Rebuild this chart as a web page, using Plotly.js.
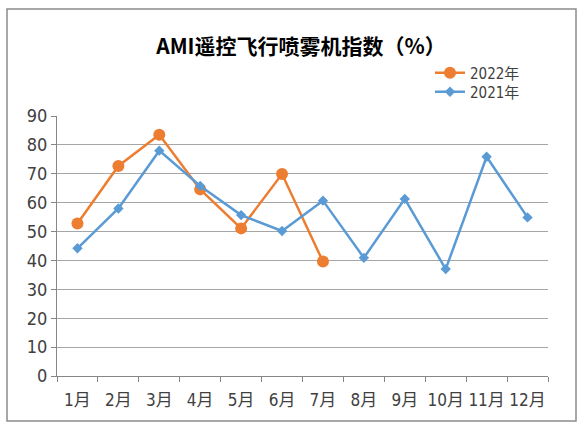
<!DOCTYPE html>
<html><head><meta charset="utf-8">
<script src="https://cdn.plot.ly/plotly-3.0.1.min.js"></script>
<style>html,body{margin:0;padding:0;background:#fff}#c{width:579px;height:423px}</style>
</head><body><div id="c"></div>
<script>
const months = ['1月','2月','3月','4月','5月','6月','7月','8月','9月','10月','11月','12月'];
const months2022 = ['1月','2月','3月','4月','5月','6月','7月'];
const values2022 = [52.8, 72.7, 83.5, 64.6, 51.1, 69.9, 39.6];
const values2021 = [44.2, 58.0, 78.0, 65.8, 55.7, 50.2, 60.7, 40.9, 61.3, 37.0, 75.9, 54.9];
const yTicks = [0,10,20,30,40,50,60,70,80,90];

const narrow = '"DejaVu Sans Condensed", "Noto Sans CJK SC", sans-serif';
const traces = [
  {x: months2022, y: values2022, name: '2022年', type: 'scatter', mode: 'lines+markers', legend: 'legend',
   line: {color: '#ED7D31', width: 2.5}, marker: {symbol: 'circle', size: 12, color: '#ED7D31'}},
  {x: months, y: values2021, name: '2021年', type: 'scatter', mode: 'lines+markers', legend: 'legend2',
   line: {color: '#5B9BD5', width: 2.5}, marker: {symbol: 'diamond', size: 8, color: '#5B9BD5'}}
];
const L = 57, R = 548, T = 116, B = 376, W = 579, H = 423;
const pw = R - L, ph = B - T;
const legFont = {family: narrow, size: 15, color: '#404040'};
const legBase = {x: (430 - L)/pw, xanchor: 'left', yanchor: 'middle', bgcolor: 'rgba(0,0,0,0)',
                 font: legFont, itemwidth: 30};
const layout = {
  width: W, height: H,
  margin: {l: L, r: W - R, t: T, b: H - B, pad: 0},
  paper_bgcolor: '#fff', plot_bgcolor: '#fff',
  title: {text: '<b>AMI遥控飞行喷雾机指数（%）</b>', x: 301/W, xanchor: 'center', y: 1 - 47/H, yanchor: 'middle',
          font: {family: '"Noto Sans CJK SC", sans-serif', size: 21, color: '#000'}},
  showlegend: true,
  legend: Object.assign({}, legBase, {y: (B - 73)/ph}),
  legend2: Object.assign({}, legBase, {y: (B - 92)/ph}),
  xaxis: {type: 'category', categoryorder: 'array', categoryarray: months, range: [-0.5, 11.5],
          showgrid: false, showline: true, linecolor: '#868686', linewidth: 1, tickangle: 0,
          ticks: 'outside', tickson: 'boundaries', ticklen: 5, tickcolor: '#868686', ticklabelstandoff: 9,
          tickfont: {family: narrow, size: 17, color: '#404040'}, fixedrange: true},
  yaxis: {range: [0, 90], tickvals: yTicks, showgrid: true, gridcolor: '#a6a6a6', gridwidth: 1,
          showline: true, linecolor: '#868686', linewidth: 1, ticks: 'outside', ticklen: 5, tickcolor: '#868686',
          zeroline: false, tickfont: {family: narrow, size: 18, color: '#404040'}, fixedrange: true},
  shapes: [{type: 'rect', xref: 'paper', yref: 'paper',
            x0: (7 - L)/pw, x1: (576 - L)/pw, y0: (B - 421)/ph, y1: (B - 9)/ph,
            line: {color: '#8c8c8c', width: 1.5}, fillcolor: 'rgba(0,0,0,0)', layer: 'below'}]
};
Plotly.newPlot('c', traces, layout, {displayModeBar: false, staticPlot: true});
</script></body></html>
